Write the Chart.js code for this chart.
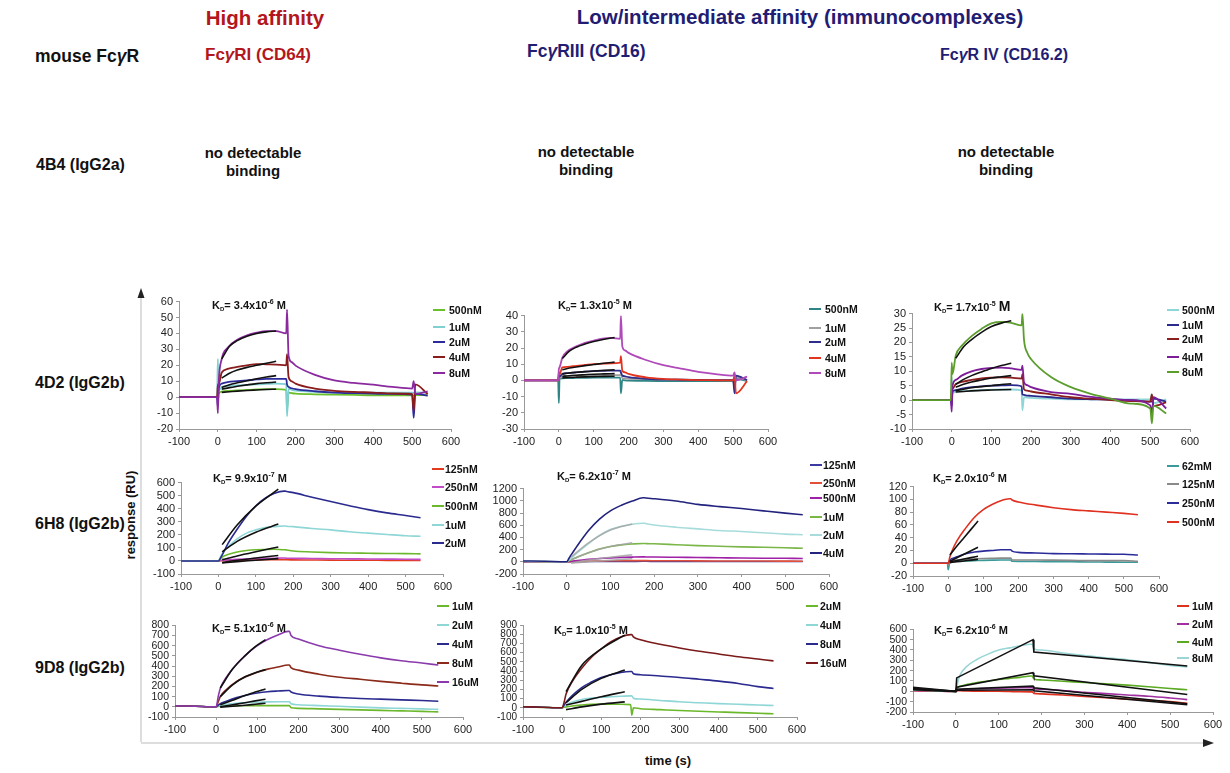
<!DOCTYPE html>
<html><head><meta charset="utf-8">
<script src="https://cdn.jsdelivr.net/npm/chart.js@4.4.1/dist/chart.umd.min.js"></script>
<style>
html,body{margin:0;padding:0;background:#fff;}
#fig{position:relative;width:1230px;height:773px;overflow:hidden;font-family:"Liberation Sans",Arial,sans-serif;font-weight:bold;color:#111;}
.t{position:absolute;white-space:nowrap;transform:translateY(-50%);}
.c{position:absolute;white-space:nowrap;transform:translate(-50%,-50%);text-align:center;}
canvas{position:absolute;}
.kd{position:absolute;font-size:11px;white-space:nowrap;transform:translateY(-50%);}
.kd sub{font-size:6px;vertical-align:-2px;}
.kd sup{font-size:7px;vertical-align:5px;}
.lg{position:absolute;font-size:10.5px;white-space:nowrap;transform:translateY(-50%);}
.ln{position:absolute;height:2px;width:12px;transform:translateY(-50%);}
</style></head><body><div id="fig">
<svg width="1230" height="773" style="position:absolute;left:0;top:0">
  <line x1="141" y1="297" x2="141" y2="742" stroke="#bbb" stroke-width="1"/>
  <polygon points="141,288 137.5,298 144.5,298" fill="#222"/>
  <line x1="141" y1="743" x2="1204" y2="743" stroke="#bbb" stroke-width="1"/>
  <polygon points="1214,743 1203,739 1203,747" fill="#222"/>
</svg>
<div class="c" style="left:265px;top:18px;font-size:20.5px;color:#b3161c">High affinity</div>
<div class="c" style="left:800px;top:17px;font-size:20.5px;color:#231c73">Low/intermediate affinity (immunocomplexes)</div>
<div class="t" style="left:35px;top:56px;font-size:17.5px">mouse Fc<i>γ</i>R</div>
<div class="t" style="left:205px;top:55px;font-size:17px;color:#b3161c">Fc<i>γ</i>RI (CD64)</div>
<div class="t" style="left:527px;top:51px;font-size:17.5px;color:#231c73">Fc<i>γ</i>RIII (CD16)</div>
<div class="t" style="left:940px;top:55px;font-size:16px;color:#231c73">Fc<i>γ</i>R IV (CD16.2)</div>
<div class="t" style="left:36px;top:165px;font-size:16px">4B4 (IgG2a)</div>
<div class="c" style="left:253px;top:162px;font-size:15px;line-height:18px">no detectable<br>binding</div>
<div class="c" style="left:586px;top:161px;font-size:15px;line-height:18px">no detectable<br>binding</div>
<div class="c" style="left:1006px;top:161px;font-size:15px;line-height:18px">no detectable<br>binding</div>
<div class="t" style="left:35px;top:383px;font-size:16px">4D2 (IgG2b)</div>
<div class="t" style="left:35px;top:524px;font-size:16px">6H8 (IgG2b)</div>
<div class="t" style="left:35px;top:668px;font-size:16px">9D8 (IgG2b)</div>
<div class="c" style="left:130px;top:515px;font-size:13px;transform:translate(-50%,-50%) rotate(-90deg)">response (RU)</div>
<div class="c" style="left:668px;top:760px;font-size:13px">time (s)</div>
</div>
<script>
// ---------- time axes ----------
const tRow1 = [-100,-50,-2,0,2,10,25,50,75,100,125,150,176,178,182,190,200,250,300,350,400,450,500,504,508,540];
const tRow23 = [-100,-50,-2,0,5,10,25,50,75,100,125,150,175,178,182,200,250,300,350,400,450,500,540];
const xTicksMin = -100, xTicksMax = 600;

// ---------- Panel 1: 4D2 / FcgRI ----------
const p1Labels = ['500nM','1uM','2uM','4uM','8uM'];
const p1_500nM = [0,0,0,-2,2,3.5,4,4.2,4.5,4.8,5,5,4.5,-8,2.8,2.5,2.2,1.8,1.6,1.4,1.2,1.2,1.2,1,1.3,1.2];
const p1_1uM   = [0,0,0,24,4,6.4,7,7.4,7.7,8,8.3,8.5,8.2,-12,5.4,4.6,4.1,3.3,2.9,2.9,2.9,2.9,2.9,2.5,3,2.7];
const p1_2uM   = [0,0,0,-6,5,8.5,9.5,10,10.5,11.1,11.5,11.5,11.5,8,6.4,5.6,5,3.7,2.9,2.5,2.2,2,1.6,-13,2,1];
const p1_4uM   = [0,0,0,8,8,15.5,17.7,19,20,20.8,20.6,20.4,20,27,12.6,10,8.5,5.4,4,3.3,2.9,2.3,2,-9,8,1.9];
const p1_8uM   = [0,0,0,-10,8,24,31,36,38.8,40.5,41.5,41.5,40,55,26,22,19.8,14,10.5,8.9,7.8,6.4,5.4,10,2,3.7];
const p1FitT = [10,30,50,75,100,125,150];
const p1Fit_8uM = [24,32,35.5,38.2,40,41,41.5];
const p1Fit_4uM = [12,15,17,18.7,20,21.3,22.5];
const p1Fit_2uM = [6,7.8,9,10.3,11.5,12.6,13.5];
const p1Fit_1uM = [5,6,6.8,7.7,8.5,9,9.5];
const p1Fit_500nM = [3,3.4,3.8,4.2,4.5,4.8,5];

// ---------- Panel 2: 4D2 / FcgRIII ----------
const p2Labels = ['500nM','1uM','2uM','4uM','8uM'];
const p2_500nM = [0,0,0,-14,1,1.3,1.4,1.5,1.6,1.7,1.7,1.7,1.7,-8,0.3,0,-0.2,-0.3,-0.4,-0.5,-0.5,-0.5,-0.5,-3,1,-0.5];
const p2_1uM   = [0,0,0,2,1.5,2.5,2.8,3,3.2,3.3,3.3,3.3,3.3,4,1.2,1.1,1,0.8,0.5,0.4,0.3,0.2,0.1,-4,2,0];
const p2_2uM   = [0,0,0,3,2.5,4,4.5,5,5.4,5.7,5.9,6,6,5,3,2.5,2,1,0.5,0.4,0.3,0.2,0.2,-8,3,0.2];
const p2_4uM   = [0,0,0,5,4,8,8.4,9,9.5,10,10.3,10.6,11,15,6,5,4,1.9,0.9,0.5,0.2,0.1,0,3,-8,-0.5];
const p2_8uM   = [0,0,0,7,8,14,18,21,23.2,24.6,25.8,26.2,25.6,40,21,18.5,17,12.6,9.4,7.3,5.3,3.9,2.9,5,0,2.3];
const p2FitT = [10,30,50,75,100,130,160];
const p2Fit_8uM = [13.5,18,20.5,22.5,24,25.4,26.5];
const p2Fit_4uM = [6.5,7.6,8.3,9.1,9.8,10.6,11.3];
const p2Fit_2uM = [4,4.6,5,5.4,5.8,6.2,6.6];
const p2Fit_1uM = [2.5,2.9,3.2,3.5,3.8,4,4.2];
const p2Fit_500nM = [1.5,1.8,2,2.2,2.3,2.5,2.6];

// ---------- Panel 3: 4D2 / FcgRIV ----------
const p3Labels = ['500nM','1uM','2uM','4uM','8uM'];
const p3_500nM = [0,0,0,8,2.5,3,3.1,3.3,3.5,3.6,3.7,3.7,3.3,-3.5,1,0.9,0.8,0.5,0.3,0.3,0.3,0.3,0.3,2,-1,0.3];
const p3_1uM   = [0,0,0,-2,3,3.5,4,4.5,4.8,5,5.1,5.2,4.8,2,1.8,1.6,1.5,1,0.5,0.3,0.2,0,-0.5,-0.5,0.5,-0.5];
const p3_2uM   = [0,0,0,4,4,5.5,6.3,7,7.5,7.8,7.9,7.8,7.5,9,3.8,3.3,3,2,1,0.5,0,-0.3,-0.5,2,-2,-0.8];
const p3_4uM   = [0,0,0,-4,5,7,8.5,10,10.8,11.2,11.3,11,10.5,12,6.2,5.2,4.5,2.8,2.2,1.1,0.5,0,-1.8,-5,1,-2.9];
const p3_8uM   = [0,0,0,13,9,15.4,18.8,22.2,24.7,26.6,27.1,26.8,25.9,30,21,16.5,14.2,8,4.5,2.2,0.5,-1.2,-2.9,-8,-2,-4.6];
const p3FitT = [10,30,50,75,100,125,150];
const p3Fit_8uM = [14.5,18.5,21,23.5,25.5,26.7,27.5];
const p3Fit_4uM = [5.5,7.2,8.5,9.8,11,12,12.8];
const p3Fit_2uM = [4.5,5.5,6.3,7,7.7,8.1,8.5];
const p3Fit_1uM = [3.3,3.8,4.3,4.7,5,5.4,5.7];
const p3Fit_500nM = [2.8,3,3.2,3.4,3.5,3.6,3.7];

// ---------- Panel 4: 6H8 / FcgRI ----------
const p4Labels = ['125nM','250nM','500nM','1uM','2uM'];
const p4_125nM = [0,0,0,0,1,2,3,5,6.5,8,9,9.5,10,10,9,8,7,6,5.5,5,4.5,4,4];
const p4_250nM = [0,0,0,0,3,5,8,12,15,18,20,21,22,22,21,20,19,17,16,15,14,13,12];
const p4_500nM = [0,0,0,0,15,30,49,69,80,86,88,89,86,86,84,76,69,64,61,59,57,56,54];
const p4_1uM   = [0,0,0,0,30,56,106,169,213,238,256,263,268,268,266,263,248,238,223,213,203,193,189];
const p4_2uM   = [0,0,0,0,20,44,131,243,343,423,480,518,535,535,532,523,488,455,423,393,368,348,331];
const p4FitT = [10,50,100,160];
const p4Fit_2uM = [125,275,420,550];
const p4Fit_1uM = [70,150,220,282];
const p4Fit_500nM = [10,38,70,107];
const p4Fit_250nM = [-12,5,22,42];
const p4Fit_125nM = [-15,-5,5,18];

// ---------- Panel 5: 6H8 / FcgRIII ----------
const p5Labels = ['125nM','250nM','500nM','1uM','2uM','4uM'];
const p5_125nM = [0,0,0,0,1,1,2,4,5,6,7,7.5,8,8,8,7,6,6,5,5,4.5,4,4];
const p5_250nM = [0,0,0,0,1,2,5,10,13,16,18,19,20,20,19,18,17,15,14,13,12,11,10];
const p5_500nM = [0,0,0,0,5,10,20,40,54,65,72,77,80,80,79,78,74,70,66,62,59,57,55];
const p5_1uM   = [5,3,0,0,15,30,80,150,210,250,278,292,300,300,298,295,280,265,255,245,238,230,222];
const p5_2uM   = [8,5,0,0,30,57,154,299,433,529,583,615,631,631,625,604,567,540,513,497,476,454,444];
const p5_4uM   = [14,8,0,0,55,111,272,513,701,835,926,996,1050,1050,1045,1034,996,942,905,873,835,798,771];
const p5FitT = [10,50,100,150];
const p5Fit_2uM = [80,310,520,620];
const p5Fit_1uM = [35,150,250,310];
const p5Fit_500nM = [-20,30,75,115];
const p5Fit_250nM = [-20,0,25,50];

// ---------- Panel 6: 6H8 / FcgRIV ----------
const p6Labels = ['62mM','125nM','250nM','500nM'];
const p6_62nM  = [0,0,0,-10,2,2.5,3,3.5,4,4.5,4.8,5,5,5,3,2.8,2.6,2.5,2.3,2,1.8,1.6,1.5];
const p6_125nM = [0,0,0,-3,3,4,5,6,7,7.5,7.8,8,8,8,5,5,5,4.8,4.5,4,4,4,3];
const p6_250nM = [0,0,0,0,5,7,10,15,17.5,19,20,21,21,21,19,17,16,15,14.8,14.5,14.2,14,13];
const p6_500nM = [0,0,0,0,10,18,35,55,72,84,92,98,101,101,99,96,91,87,84,82,80,78,76];
const p6FitT = [5,25,45,65,85];
const p6Fit_500nM = [13,27,40,53,66];
const p6Fit_250nM = [3,8.5,14,19.5,25];
const p6Fit_125nM = [2,4.3,6.5,8.8,11];
const p6Fit_62nM  = [1,2.3,3.5,4.8,6];

// ---------- Panel 7: 9D8 / FcgRI ----------
const p7Labels = ['1uM','2uM','4uM','8uM','16uM'];
const p7_1uM  = [10,5,0,0,3,5,8,10,11,12,12,12,12,12,-10,-15,-20,-25,-30,-35,-40,-45,-50];
const p7_2uM  = [10,5,0,0,8,15,25,35,40,45,48,50,50,50,30,20,12,5,-3,-10,-15,-20,-25];
const p7_4uM  = [10,5,0,0,15,30,55,90,115,135,148,155,160,160,145,125,105,92,82,75,68,62,55];
const p7_8uM  = [10,5,0,0,50,100,170,250,300,340,370,390,410,410,385,360,320,290,270,250,232,215,205];
const p7_16uM = [10,5,0,0,100,180,290,420,520,600,660,705,740,740,700,665,600,555,515,480,452,430,410];
const p7FitT = [10,40,70,95,120];
const p7Fit_16uM = [185,370,500,590,660];
const p7Fit_8uM  = [100,215,295,335,365];
const p7Fit_4uM  = [20,65,110,145,175];
const p7Fit_2uM  = [0,20,40,58,75];
const p7Fit_1uM  = [-5,5,15,25,35];

// ---------- Panel 8: 9D8 / FcgRIII ----------
const p8Labels = ['2uM','4uM','8uM','16uM'];
const p8_2uM  = [10,5,0,0,5,10,20,30,37,40,40,38,35,-80,0,-10,-20,-30,-38,-45,-52,-60,-65];
const p8_4uM  = [12,6,0,0,15,30,60,90,105,115,120,125,130,130,105,95,80,65,55,45,38,30,25];
const p8_8uM  = [12,6,0,0,30,60,130,220,280,330,360,385,395,395,370,360,345,330,310,290,265,230,210];
const p8_16uM = [12,6,0,0,60,150,280,430,550,640,720,770,795,795,770,740,690,650,615,585,555,530,510];
const p8FitT = [10,50,100,160];
const p8Fit_16uM = [175,460,640,790];
const p8Fit_8uM  = [55,200,320,410];
const p8Fit_4uM  = [30,70,120,175];
const p8Fit_2uM  = [-20,10,40,64];

// ---------- Panel 9: 9D8 / FcgRIV ----------
const p9Labels = ['1uM','2uM','4uM','8uM'];
const p9_1uM = [5,3,0,0,5,5,3,2,1,0,-2,-4,-5,-5,-20,-25,-35,-50,-62,-75,-88,-100,-115];
const p9_2uM = [8,4,0,0,15,18,22,25,28,30,32,34,35,35,25,20,8,-10,-22,-35,-48,-65,-80];
const p9_4uM = [12,6,0,0,40,50,65,85,100,115,125,135,148,148,120,110,97,85,72,60,45,28,15];
const p9_8uM = [15,8,0,0,100,160,240,310,360,400,420,440,455,455,410,400,370,345,325,305,280,250,235];
const p9FitT = [-100,0,2,180,182,540];
const p9Fit_8uM = [40,0,130,500,380,245];
const p9Fit_4uM = [30,0,40,180,150,-30];
const p9Fit_2uM = [20,0,20,50,35,-120];
const p9Fit_1uM = [15,0,10,15,5,-130];

// ---------- KD labels ----------
const kdMant = ['3.4','1.3','1.7','9.9','6.2','2.0','5.1','1.0','6.2'];
const kdExp  = ['-6','-5','-5','-7','-7','-6','-6','-5','-6'];

// ---------- styles / layout ----------
const panels = [
 {box:{L:179,R:451,T:300,B:429}, y:[-20,60,10], t:tRow1, series:[p1_500nM,p1_1uM,p1_2uM,p1_4uM,p1_8uM], labels:p1Labels,
  colors:['#6cbf2c','#7fd1d1','#2b2b9b','#8a1c1c','#8a2a9e'], fitT:p1FitT, fits:[p1Fit_8uM,p1Fit_4uM,p1Fit_2uM,p1Fit_1uM,p1Fit_500nM], fitColor:'#111', lw:1.8,
  kd:[212,305], lg:{lx:433,tx:449,ys:[310,327,342,357,373]}, fs:11},
 {box:{L:524,R:768,T:314,B:429}, y:[-30,40,10], t:tRow1, series:[p2_500nM,p2_1uM,p2_2uM,p2_4uM,p2_8uM], labels:p2Labels,
  colors:['#2f8585','#a0a0a0','#2d2d8c','#e2341f','#b04ab8'], fitT:p2FitT, fits:[p2Fit_8uM,p2Fit_4uM,p2Fit_2uM,p2Fit_1uM,p2Fit_500nM], fitColor:'#111', lw:1.8,
  kd:[558,305], lg:{lx:809,tx:825,ys:[309,328,342,358,373]}, fs:11},
 {box:{L:912,R:1190,T:312,B:429}, y:[-10,30,5], t:tRow1, series:[p3_500nM,p3_1uM,p3_2uM,p3_4uM,p3_8uM], labels:p3Labels,
  colors:['#8fd6d6','#2b2b8f','#8b1e1e','#7d1d9a','#5c9e2e'], fitT:p3FitT, fits:[p3Fit_8uM,p3Fit_4uM,p3Fit_2uM,p3Fit_1uM,p3Fit_500nM], fitColor:'#111', lw:1.8,
  kd:[934,306], lg:{lx:1167,tx:1182,ys:[310,325,339,357,372]}, fs:11, bigM:true},
 {box:{L:181,R:443,T:481,B:574}, y:[-100,600,100], t:tRow23, series:[p4_125nM,p4_250nM,p4_500nM,p4_1uM,p4_2uM], labels:p4Labels,
  colors:['#e23a1f','#c24bc7','#6cb82c','#8fd6d6','#2b2b8f'], fitT:p4FitT, fits:[p4Fit_2uM,p4Fit_1uM,p4Fit_500nM,p4Fit_250nM,p4Fit_125nM], fitColor:'#111', lw:1.6,
  kd:[213,478], lg:{lx:432,tx:445,ys:[469,487,506,525,543]}, fs:11},
 {box:{L:523,R:829,T:487,B:574}, y:[-200,1200,200], t:tRow23, series:[p5_125nM,p5_250nM,p5_500nM,p5_1uM,p5_2uM,p5_4uM], labels:p5Labels,
  colors:['#3a3aa0','#e2503a','#a020a8','#7ab648','#a8dcdc','#23237f'], fitT:p5FitT, fits:[p5Fit_2uM,p5Fit_1uM,p5Fit_500nM,p5Fit_250nM], fitColor:'rgba(165,165,165,0.85)', lw:1.6,
  kd:[557,476], lg:{lx:810,tx:823,ys:[465,483,498,517,535,553]}, fs:11},
 {box:{L:913,R:1159,T:485,B:576}, y:[-20,120,20], t:tRow23, series:[p6_62nM,p6_125nM,p6_250nM,p6_500nM], labels:p6Labels,
  colors:['#3a9a9a','#8a8a8a','#2b2b9a','#e03020'], fitT:p6FitT, fits:[p6Fit_500nM,p6Fit_250nM,p6Fit_125nM,p6Fit_62nM], fitColor:'#111', lw:1.6,
  kd:[933,478], lg:{lx:1167,tx:1182,ys:[466,484,503,522]}, fs:11},
 {box:{L:175,R:463,T:624,B:717}, y:[-100,800,100], t:tRow23, series:[p7_1uM,p7_2uM,p7_4uM,p7_8uM,p7_16uM], labels:p7Labels,
  colors:['#6cb82c','#8fd6d6','#2b2b8f','#8b2a1a','#8a3aaa'], fitT:p7FitT, fits:[p7Fit_16uM,p7Fit_8uM,p7Fit_4uM,p7Fit_2uM,p7Fit_1uM], fitColor:'#111', lw:1.6,
  kd:[212,628], lg:{lx:437,tx:452,ys:[606,625,644,663,682]}, fs:10.5},
 {box:{L:523,R:797,T:624,B:717}, y:[-100,900,100], t:tRow23, series:[p8_2uM,p8_4uM,p8_8uM,p8_16uM], labels:p8Labels,
  colors:['#6cb82c','#8fd6d6','#2b2b8f','#7a1a1a'], fitT:p8FitT, fits:[p8Fit_16uM,p8Fit_8uM,p8Fit_4uM,p8Fit_2uM], fitColor:'#111', lw:1.6,
  kd:[554,630], lg:{lx:806,tx:820,ys:[606,625,644,663]}, fs:10},
 {box:{L:913,R:1213,T:628,B:712}, y:[-200,600,100], t:tRow23, series:[p9_1uM,p9_2uM,p9_4uM,p9_8uM], labels:p9Labels,
  colors:['#e03020','#a030a0','#5aaa22','#9ad6d6'], fitT:p9FitT, fits:[p9Fit_8uM,p9Fit_4uM,p9Fit_2uM,p9Fit_1uM], fitColor:'#111', lw:1.6,
  kd:[934,630], lg:{lx:1177,tx:1192,ys:[606,624,642,658]}, fs:10.5, linearFit:true}
];

const fig = document.getElementById('fig');
const FONT = '"Liberation Sans", Arial, sans-serif';
const plainNum = v => String(v);

function ds(t, vals, color, width, mono){
  return {data: t.map((x,i)=>({x:x, y:vals[i]})), borderColor: color, borderWidth: width,
          pointRadius: 0, fill: false, cubicInterpolationMode: mono ? 'monotone' : 'default', tension: 0};
}

panels.forEach((p, idx) => {
  const PL = 45, PR = 14, PT = 8, PB = 22;
  const w = p.box.R - p.box.L + PL + PR, h = p.box.B - p.box.T + PT + PB;
  const cv = document.createElement('canvas');
  cv.width = w; cv.height = h;
  cv.style.left = (p.box.L - PL) + 'px'; cv.style.top = (p.box.T - PT) + 'px';
  cv.style.width = w + 'px'; cv.style.height = h + 'px';
  fig.appendChild(cv);
  const datasets = [];
  p.fits.forEach(f => datasets.push(ds(p.fitT, f, p.fitColor, 1.6, !p.linearFit)));
  p.series.slice().reverse().forEach((s, i) => {
    const ci = p.series.length - 1 - i;
    datasets.push(ds(p.t, s, p.colors[ci], p.lw, true));
  });
  new Chart(cv, {
    type: 'line',
    data: {datasets},
    options: {
      responsive: false, animation: false, devicePixelRatio: 1, events: [],
      layout: {padding: {top: PT, right: PR, left: 0, bottom: 0}},
      plugins: {legend: {display: false}, tooltip: {enabled: false}},
      scales: {
        x: {type: 'linear', min: xTicksMin, max: xTicksMax,
            ticks: {stepSize: 100, color: '#222', font: {family: FONT, size: 11}, padding: 3, maxRotation: 0, autoSkip: false, callback: plainNum},
            grid: {drawOnChartArea: false, tickLength: 3, color: '#999'}, border: {color: '#999'},
            afterFit: s => { s.height = PB; }},
        y: {type: 'linear', min: p.y[0], max: p.y[1],
            ticks: {stepSize: p.y[2], color: '#222', font: {family: FONT, size: p.fs}, padding: 3, autoSkip: false, callback: plainNum},
            grid: {drawOnChartArea: false, tickLength: 3, color: '#999'}, border: {color: '#999'},
            afterFit: s => { s.width = PL; }}
      }
    }
  });
  const kd = document.createElement('div');
  kd.className = 'kd';
  kd.style.left = p.kd[0] + 'px'; kd.style.top = p.kd[1] + 'px';
  kd.innerHTML = 'K<sub>D</sub>= ' + kdMant[idx] + 'x10<sup>' + kdExp[idx] + '</sup> ' + (p.bigM ? '<span style="font-size:14px">M</span>' : 'M');
  fig.appendChild(kd);
  p.labels.forEach((lab, i) => {
    const ln = document.createElement('div');
    ln.className = 'ln';
    ln.style.left = p.lg.lx + 'px'; ln.style.top = p.lg.ys[i] + 'px'; ln.style.background = p.colors[i];
    fig.appendChild(ln);
    const tx = document.createElement('div');
    tx.className = 'lg';
    tx.style.left = p.lg.tx + 'px'; tx.style.top = p.lg.ys[i] + 'px';
    tx.textContent = lab;
    fig.appendChild(tx);
  });
});
</script>
</body></html>
